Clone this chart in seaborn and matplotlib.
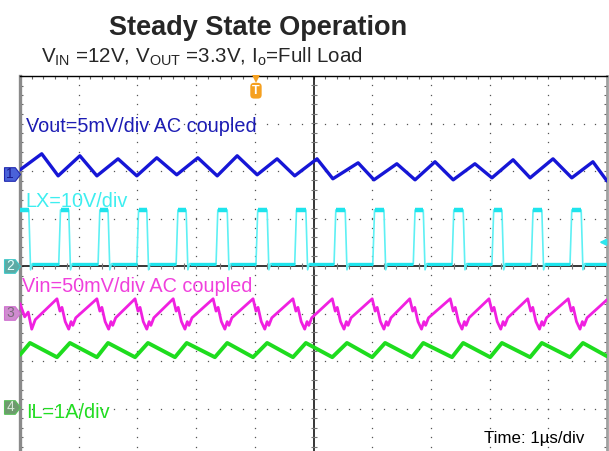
"""
Steady state scope capture: Vout ripple, LX node, Vin ripple and inductor current.
Values read off the capture; time in µs with the trigger at t = 0.
"""

import numpy as np
import pandas as pd
import matplotlib
matplotlib.use("Agg")
import matplotlib.pyplot as plt
from matplotlib.path import Path
from matplotlib.ticker import MultipleLocator
import seaborn as sns

# ── Ch1: Vout ripple, mV (5 mV/div, AC coupled) ──────────────────────────────
VOUT_PEAK_T   = [-4.63, -3.98, -3.33, -2.67, -1.97, -1.30, -0.62, 0.06,
                 0.76, 1.42, 2.07, 2.75, 3.40, 4.08, 4.76]
VOUT_PEAK     = [2.16, 1.95, 1.63, 1.74, 1.74, 1.95, 1.63, 1.63,
                 1.21, 1.11, 1.32, 1.11, 1.53, 1.63, 1.32]
VOUT_TROUGH_T = [-4.35, -3.69, -3.01, -2.33, -1.64, -0.96, -0.32,
                 0.33, 1.03, 1.73, 2.38, 3.04, 3.69, 4.40]
VOUT_TROUGH   = [-0.16, -0.16, -0.16, -0.05, -0.16, -0.05, -0.16,
                 -0.47, -0.58, -0.58, -0.58, -0.37, -0.37, -0.37]
VOUT_START, VOUT_END = 0.47, -0.70

# ── Ch2: LX switching node, V (10 V/div) ─────────────────────────────────────
LX_RISE_T = [-4.34, -3.67, -3.01, -2.34, -1.66, -0.98, -0.32,
             0.35, 1.01, 1.70, 2.36, 3.04, 3.71, 4.37]
LX_FALL_T = [-4.85, -4.17, -3.50, -2.84, -2.17, -1.47, -0.79, -0.13,
             0.54, 1.20, 1.87, 2.55, 3.21, 3.89, 4.56]
LX_HIGH, LX_LOW, LX_UNDERSHOOT = 11.8, 0.5, -0.8

# ── Ch3: Vin ripple, mV (50 mV/div, AC coupled) ──────────────────────────────
VIN_PEAK_T = [-4.37, -3.69, -3.04, -2.39, -1.71, -1.03, -0.35,
              0.32, 1.00, 1.64, 2.33, 2.99, 3.65, 4.34]
VIN_PEAK = 15.0
VIN_RING_DT = [0.05, 0.085, 0.14, 0.20, 0.24, 0.27, 0.32]   # after each peak
VIN_RING    = [2.0, 6.0, -9.0, -17.0, -9.0, -13.0, -5.0]
VIN_START_T = [-5.0, -4.92, -4.86, -4.80, -4.74]
VIN_START   = [10.0, -4.0, 1.0, -17.0, -7.0]
VIN_END = 14.0

# ── Ch4: inductor current, A (1 A/div) ───────────────────────────────────────
IL_PEAK_T   = [-4.83, -4.15, -3.50, -2.82, -2.16, -1.47, -0.79, -0.13,
               0.57, 1.22, 1.87, 2.55, 3.21, 3.89, 4.59]
IL_VALLEY_T = [-4.37, -3.69, -3.04, -2.36, -1.68, -1.03, -0.35,
               0.32, 1.00, 1.68, 2.36, 3.01, 3.69, 4.37]
IL_PEAK, IL_VALLEY = 1.35, 1.05
IL_START, IL_END = 1.10, 1.07

# channel scales (units/div) and ground markers (div from centre)
SCALE  = {"ch1": 5.0, "ch2": 10.0, "ch3": 50.0, "ch4": 1.0}
OFFSET = {"ch1": 1.93, "ch2": 0.0, "ch3": -0.99, "ch4": -2.97}
TRIGGER_T, TRIGGER_LEVEL = -0.98, 5.0

# ── Build trace tables ───────────────────────────────────────────────────────
vout = [(-5.0, VOUT_START)] + sorted(list(zip(VOUT_PEAK_T, VOUT_PEAK)) +
                                     list(zip(VOUT_TROUGH_T, VOUT_TROUGH))) + [(5.0, VOUT_END)]

edges = sorted([(t, "f") for t in LX_FALL_T] + [(t, "r") for t in LX_RISE_T])
lx = [(-5.0, LX_HIGH)]
for t, kind in edges:
    if kind == "f":
        lx += [(t, LX_HIGH), (t + 0.03, LX_UNDERSHOOT), (t + 0.06, LX_LOW)]
    else:
        lx += [(t, LX_LOW), (t + 0.03, LX_HIGH)]
lx.append((5.0, LX_LOW))

# flat parts of LX (drawn heavier, like the scope's persistence band)
flats, seg, start, level = [], 0, -5.0, LX_HIGH
for t, kind in edges + [(5.0, "end")]:
    flats += [(start, level, seg), (t, level, seg)]
    seg += 1
    if kind == "f":
        start, level = t + 0.06, LX_LOW
    else:
        start, level = t + 0.03, LX_HIGH

vin = list(zip(VIN_START_T, VIN_START))
for p in VIN_PEAK_T:
    vin.append((p, VIN_PEAK))
    vin += [(p + dt, v) for dt, v in zip(VIN_RING_DT, VIN_RING)]
vin.append((5.0, VIN_END))

il = [(-5.0, IL_START)] + sorted([(t, IL_PEAK) for t in IL_PEAK_T] +
                                 [(t, IL_VALLEY) for t in IL_VALLEY_T]) + [(5.0, IL_END)]

def to_df(pts, ch, cols=("t", "val")):
    d = pd.DataFrame(pts, columns=list(cols))
    d["div"] = OFFSET[ch] + d["val"] / SCALE[ch]
    return d

traces = {
    "ch1": (to_df(vout, "ch1"), "#1616d6", 2.4),
    "ch2": (to_df(lx, "ch2"), "#5ef0f4", 1.2),
    "ch3": (to_df(vin, "ch3"), "#f020e0", 2.0),
    "ch4": (to_df(il, "ch4"), "#1edc1e", 2.8),
}
lx_flat = to_df(flats, "ch2", ("t", "val", "seg"))
lx_high = lx_flat[lx_flat["val"] == LX_HIGH]
lx_low = lx_flat[lx_flat["val"] == LX_LOW]

# ── Figure ───────────────────────────────────────────────────────────────────
sns.set_theme(style="white")
plt.rcParams["font.family"] = ["Liberation Sans", "DejaVu Sans"]
plt.rcParams["mathtext.fontset"] = "custom"
plt.rcParams["mathtext.rm"] = "Liberation Sans"
plt.rcParams["mathtext.default"] = "rm"

fig = plt.figure(figsize=(6.09, 4.51), dpi=100)
ax = fig.add_axes([20 / 609, -5 / 451, 587 / 609, 380 / 451])
ax.set_xlim(-5, 5)
ax.set_ylim(-4, 4)

# scope graticule: dotted divisions, solid centre cross with minor ticks
fine_y = np.arange(-4, 4.001, 0.2)
fine_x = np.arange(-5, 5.001, 0.2)
for xi in range(-4, 5):
    if xi != 0:
        ax.plot([xi] * len(fine_y), fine_y, ls="none", marker="s", ms=0.9,
                color="#555555", mew=0, zorder=1)
for yi in range(-3, 4):
    if yi != 0:
        ax.plot(fine_x, [yi] * len(fine_x), ls="none", marker="s", ms=0.9,
                color="#555555", mew=0, zorder=1)
ax.axhline(0, color="black", lw=1.1, zorder=1)
ax.axvline(0, color="black", lw=1.1, zorder=1)
ax.plot([0] * len(fine_y), fine_y, ls="none", marker="_", ms=4.5, mew=0.8,
        color="#777777", zorder=1)
ax.plot(fine_x, [0] * len(fine_x), ls="none", marker="|", ms=4.5, mew=0.8,
        color="#777777", zorder=1)

ax.xaxis.set_major_locator(MultipleLocator(1))
ax.yaxis.set_major_locator(MultipleLocator(1))
ax.xaxis.set_minor_locator(MultipleLocator(0.2))
ax.yaxis.set_minor_locator(MultipleLocator(0.2))
ax.tick_params(which="both", direction="in", length=2.5, width=0.8, color="#666666",
               top=True, right=True, bottom=True, left=True,
               labelbottom=False, labelleft=False)
for side in ["top", "bottom"]:
    ax.spines[side].set_color("black")
    ax.spines[side].set_linewidth(1.0)
ax.spines["left"].set_color("#8a8a8a")
ax.spines["left"].set_linewidth(2.4)
ax.spines["right"].set_color("#a0a0a0")
ax.spines["right"].set_linewidth(2.0)

for ch, (d, col, lw) in traces.items():
    sns.lineplot(data=d, x="t", y="div", sort=False, estimator=None,
                 color=col, lw=lw, ax=ax, zorder=3)
for ln in ax.get_lines():
    ln.set_solid_joinstyle("round")
n_lines = len(ax.get_lines())
sns.lineplot(data=lx_high, x="t", y="div", units="seg", sort=False, estimator=None,
             color="#1ee4ec", lw=3.2, ax=ax, zorder=3)
sns.lineplot(data=lx_low, x="t", y="div", units="seg", sort=False, estimator=None,
             color="#1ee4ec", lw=2.2, ax=ax, zorder=3)
for ln in ax.get_lines()[n_lines:]:
    ln.set_solid_capstyle("butt")
ax.set_xlabel("")
ax.set_ylabel("")

# channel ground tags on the left edge
tag = Path([(-1, -0.85), (0.35, -0.85), (1, 0), (0.35, 0.85), (-1, 0.85), (-1, -0.85)])
tags = {"ch1": ("1", "#4a62d8", "#2028b0", "#1a1a90"),
        "ch2": ("2", "#5eaaa4", "#3cc8c8", "#e8ffff"),
        "ch3": ("3", "#cf8ccf", "#d070d0", "#7a6a7a"),
        "ch4": ("4", "#6e9a6e", "#58c058", "#d8ead8")}
for ch, (num, fc, ec, tc) in tags.items():
    ax.plot([-5.136], [OFFSET[ch]], marker=tag, ms=11.5, mfc=fc, mec=ec, mew=0.8,
            clip_on=False, zorder=5)
    ax.text(-5.17, OFFSET[ch], num, fontsize=10, color=tc, ha="center", va="center",
            clip_on=False, zorder=6)

# trigger position tag (top) and trigger level arrow (right)
ax.plot([TRIGGER_T], [3.93], marker="v", ms=5.5, color="#f5a020", mew=0, clip_on=False, zorder=5)
ax.text(TRIGGER_T, 3.69, "T", fontsize=9, fontweight="bold", color="white",
        ha="center", va="center", zorder=6,
        bbox=dict(boxstyle="round,pad=0.15,rounding_size=0.3", fc="#f5a020", ec="none"))
ax.annotate("", xy=(4.82, OFFSET["ch2"] + TRIGGER_LEVEL / SCALE["ch2"]),
            xytext=(5.0, OFFSET["ch2"] + TRIGGER_LEVEL / SCALE["ch2"]),
            arrowprops=dict(arrowstyle="-|>", color="#2ee6ee", lw=1.4,
                            mutation_scale=9), zorder=6)

# channel labels
ax.text(0.010, 0.853, "Vout=5mV/div AC coupled", transform=ax.transAxes,
        fontsize=14.3, color="#1c1cb4", va="baseline", zorder=4)
ax.text(0.010, 0.655, "LX=10V/div", transform=ax.transAxes,
        fontsize=14.3, color="#3eeef0", va="baseline", zorder=4)
ax.text(0.004, 0.432, "Vin=50mV/div AC coupled", transform=ax.transAxes,
        fontsize=14.3, color="#f040dc", va="baseline", zorder=4)
ax.text(0.010, 0.100, "IL=1A/div", transform=ax.transAxes,
        fontsize=14.3, color="#22dd22", va="baseline", zorder=4)
ax.text(0.790, 0.034, "Time: 1µs/div", transform=ax.transAxes,
        fontsize=12.2, color="black", va="baseline", zorder=4)

fig.text(0.4236, 0.922, "Steady State Operation", fontsize=19.5, fontweight="bold",
         ha="center", va="baseline")
fig.text(0.0673, 0.860, r"V$_{IN}$ =12V, V$_{OUT}$ =3.3V, I$_{o}$=Full Load",
         fontsize=14.8, ha="left", va="baseline")

fig.savefig("out.png", dpi=100)
